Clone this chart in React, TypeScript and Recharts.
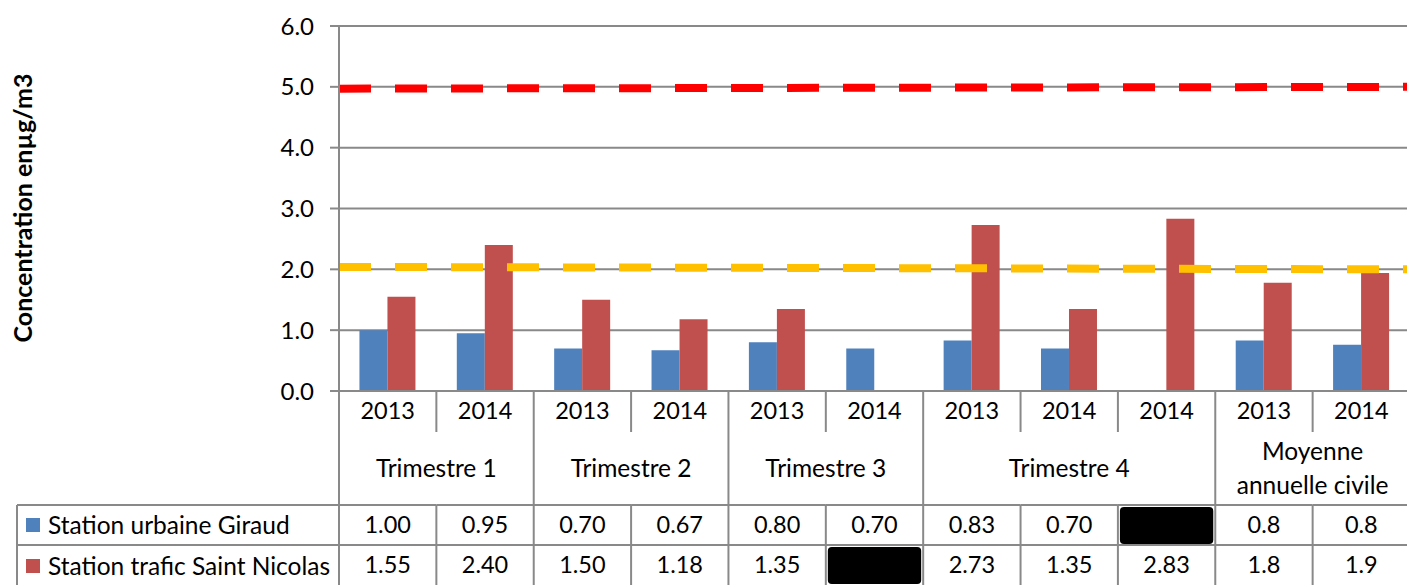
import { Bar, CartesianGrid, ComposedChart, Line, XAxis, YAxis } from "recharts"

const years = ["2013", "2014", "2013", "2014", "2013", "2014", "2013", "2014", "2014", "2013", "2014"]
const giraud = [1.0, 0.95, 0.7, 0.67, 0.8, 0.7, 0.83, 0.7, null, 0.83, 0.76]
const saintNicolas = [1.55, 2.4, 1.5, 1.18, 1.35, null, 2.73, 1.35, 2.83, 1.78, 1.94]
const decimals = [2, 2, 2, 2, 2, 2, 2, 2, 2, 1, 1]

const groupLabels = ["Trimestre 1", "Trimestre 2", "Trimestre 3", "Trimestre 4", "Moyenne\nannuelle civile"]
const groupSpans = [2, 2, 2, 3, 2]

const seriesNames = ["Station urbaine Giraud", "Station trafic Saint Nicolas"]
const seriesColors = ["#4F81BD", "#C0504D"]

const yTicks = [0, 1, 2, 3, 4, 5, 6]

// seuils (lignes pointillées)
const limitX = [0, 11]
const limitRed = [4.97, 5.0]
const limitOrange = [2.04, 2.0]

const data = years.map((year, i) => ({
  key: `${i}-${year}`,
  year,
  giraud: giraud[i],
  saintNicolas: saintNicolas[i],
}))

const redData = limitX.map((x, i) => ({ x, y: limitRed[i] }))
const orangeData = limitX.map((x, i) => ({ x, y: limitOrange[i] }))

const groupStart: Record<number, number> = {}
const groupEnds = new Set<number>()
let acc = 0
groupSpans.forEach((s, g) => {
  groupStart[acc] = g
  acc += s
  groupEnds.add(acc - 1)
})

const W = 1410
const H = 585
const Y_AXIS_W = 339
const X_AXIS_H = 194
const BAND = (W - Y_AXIS_W) / years.length
const GRID = "#898989"
const FONT = "Lato, 'Noto Sans', sans-serif"
const NUM_SIZE = 23.5
const WORD_SIZE = 24.5

function fmt(v: number | null, d: number) {
  return v == null ? null : v.toFixed(d)
}

function TableTick(props: any) {
  const { x, y, payload } = props
  const i = payload.index
  const left = x - BAND / 2
  const right = x + BAND / 2
  const rowTop1 = y + 114
  const rowTop2 = y + 154
  const bottom = y + 194
  const els: any[] = []
  const txt = { fontFamily: FONT, fill: "#000", textAnchor: "middle" as const }

  els.push(
    <text key="yr" x={x} y={y + 20} dy="0.36em" fontSize={NUM_SIZE} {...txt}>
      {years[i]}
    </text>
  )

  // séparateurs verticaux
  if (groupEnds.has(i)) {
    els.push(<line key="vr" x1={right} x2={right} y1={y} y2={bottom} stroke={GRID} strokeWidth={2} />)
  } else {
    els.push(<line key="vr1" x1={right} x2={right} y1={y} y2={y + 41} stroke={GRID} strokeWidth={2} />)
    els.push(<line key="vr2" x1={right} x2={right} y1={rowTop1} y2={bottom} stroke={GRID} strokeWidth={2} />)
  }
  els.push(<line key="h1" x1={left} x2={right} y1={rowTop1} y2={rowTop1} stroke={GRID} strokeWidth={2} />)
  els.push(<line key="h2" x1={left} x2={right} y1={rowTop2} y2={rowTop2} stroke={GRID} strokeWidth={2} />)

  if (i === 0) {
    els.push(<line key="vl" x1={left} x2={left} y1={y} y2={bottom} stroke={GRID} strokeWidth={2} />)
    els.push(<line key="lh1" x1={17} x2={left} y1={rowTop1} y2={rowTop1} stroke={GRID} strokeWidth={2} />)
    els.push(<line key="lh2" x1={17} x2={left} y1={rowTop2} y2={rowTop2} stroke={GRID} strokeWidth={2} />)
    els.push(<line key="lv" x1={17} x2={17} y1={rowTop1} y2={bottom} stroke={GRID} strokeWidth={2} />)
    seriesNames.forEach((name, s) => {
      const cy = s === 0 ? y + 134 : y + 175
      els.push(<rect key={`lk${s}`} x={26} y={cy - 7} width={14} height={14} fill={seriesColors[s]} />)
      els.push(
        <text key={`ln${s}`} x={48} y={cy} dy="0.36em" fontFamily={FONT} fontSize={WORD_SIZE} fill="#000">
          {name}
        </text>
      )
    })
  }

  if (groupStart[i] !== undefined) {
    const g = groupStart[i]
    const cx = left + (groupSpans[g] * BAND) / 2
    const lines = groupLabels[g].split("\n")
    lines.forEach((ln, k) => {
      const cy = y + 77 + (k - (lines.length - 1) / 2) * 34
      els.push(
        <text key={`g${k}`} x={cx} y={cy} dy="0.36em" fontSize={WORD_SIZE} {...txt}>
          {ln}
        </text>
      )
    })
  }

  const vals = [fmt(giraud[i], decimals[i]), fmt(saintNicolas[i], decimals[i])]
  vals.forEach((v, s) => {
    const top = s === 0 ? rowTop1 : rowTop2
    if (v == null) {
      els.push(
        <rect key={`b${s}`} x={left + 2} y={top + 2} width={BAND - 4} height={37} rx={4} fill="#000" />
      )
    } else {
      els.push(
        <text key={`v${s}`} x={x} y={top + 20} dy="0.36em" fontSize={NUM_SIZE} {...txt}>
          {v}
        </text>
      )
    }
  })

  return <g>{els}</g>
}

function YLabel() {
  return (
    <text
      x={23}
      y={208}
      transform="rotate(-90 23 208)"
      textAnchor="middle"
      dy="0.36em"
      fontFamily={FONT}
      fontWeight="bold"
      fontSize={25}
      fill="#000"
    >
      Concentration enµg/m3
    </text>
  )
}

export default function App() {
  return (
    <div style={{ position: "absolute", left: 0, top: 0, width: 1407, height: H, overflow: "hidden", background: "#fff" }}>
      <ComposedChart
        width={W}
        height={H}
        data={data}
        margin={{ top: 26, right: 0, left: 0, bottom: 0 }}
        barCategoryGap="21%"
        barGap={0}
      >
        <CartesianGrid vertical={false} stroke={GRID} strokeWidth={2} />
        <XAxis
          dataKey="key"
          height={X_AXIS_H}
          interval={0}
          tickLine={false}
          tickSize={0}
          tickMargin={0}
          axisLine={{ stroke: GRID, strokeWidth: 2 }}
          tick={<TableTick />}
        />
        <XAxis xAxisId="lim" type="number" dataKey="x" domain={[0, 11]} hide allowDataOverflow />
        <YAxis
          width={Y_AXIS_W}
          domain={[0, 6]}
          ticks={yTicks}
          interval={0}
          tickFormatter={(v) => v.toFixed(1)}
          tickSize={9}
          tickMargin={16}
          axisLine={{ stroke: GRID, strokeWidth: 2 }}
          tickLine={{ stroke: GRID, strokeWidth: 2 }}
          tick={{ fontFamily: FONT, fontSize: 24, fill: "#000" }}
          label={<YLabel />}
        />
        <Bar dataKey="giraud" name={seriesNames[0]} fill={seriesColors[0]} isAnimationActive={false} />
        <Bar dataKey="saintNicolas" name={seriesNames[1]} fill={seriesColors[1]} isAnimationActive={false} />
        <Line
          xAxisId="lim"
          data={orangeData}
          dataKey="y"
          stroke="#FFC000"
          strokeWidth={8}
          strokeDasharray="32 24"
          dot={false}
          activeDot={false}
          isAnimationActive={false}
        />
        <Line
          xAxisId="lim"
          data={redData}
          dataKey="y"
          stroke="#FF0000"
          strokeWidth={8}
          strokeDasharray="32 24"
          dot={false}
          activeDot={false}
          isAnimationActive={false}
        />
      </ComposedChart>
    </div>
  )
}
